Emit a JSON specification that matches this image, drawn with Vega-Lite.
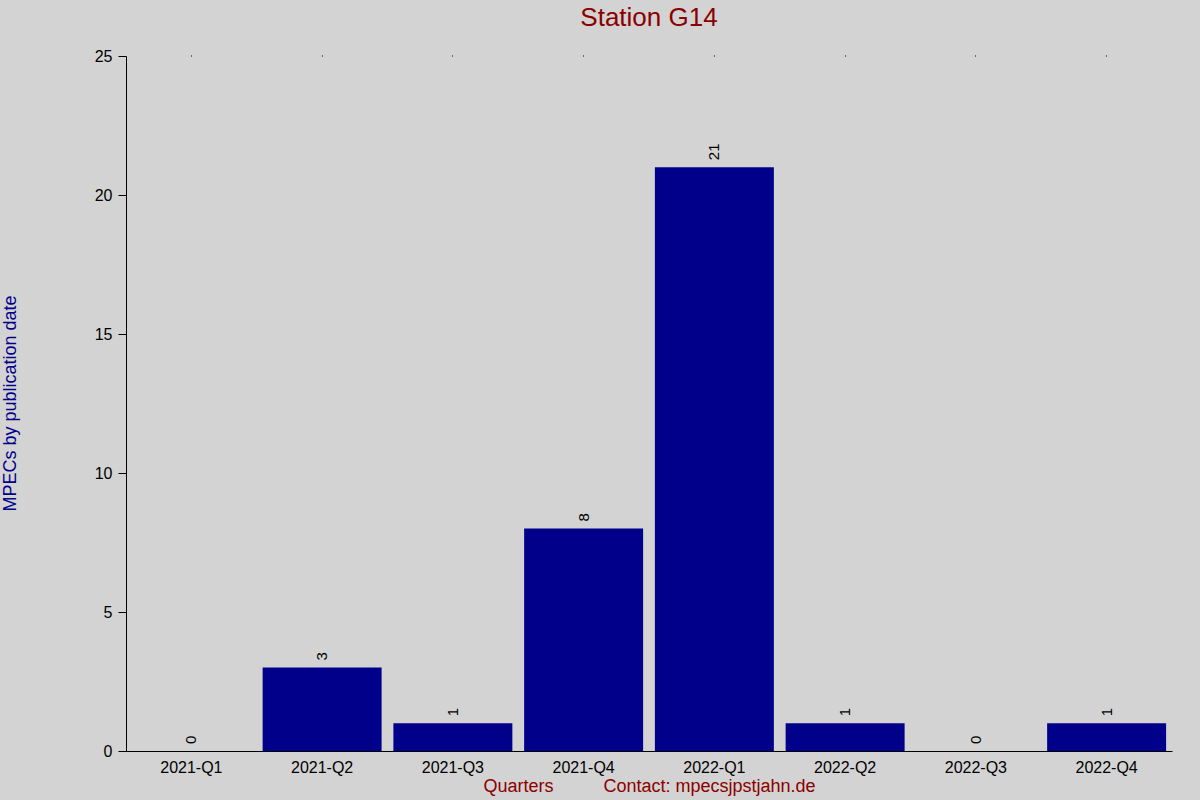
{
  "$schema": "https://vega.github.io/schema/vega-lite/v6.json",
  "autosize": "none",
  "width": 1046,
  "height": 695,
  "padding": {"left": 126, "top": 56, "right": 28, "bottom": 49},
  "background": "#d3d3d3",
  "config": {
    "font": "Liberation Sans",
    "view": {"stroke": null},
    "axis": {"grid": false, "domainColor": "black", "tickColor": "black", "labelColor": "black", "labelFont": "Liberation Sans", "titleFont": "Liberation Sans", "titleFontWeight": "normal"}
  },
  "title": {"text": "Station G14", "color": "#8b0000", "fontSize": 26, "fontWeight": "normal", "font": "Liberation Sans", "offset": 17},
  "data": {
    "values": [
      {"quarter": "2021-Q1", "mpecs": 0},
      {"quarter": "2021-Q2", "mpecs": 3},
      {"quarter": "2021-Q3", "mpecs": 1},
      {"quarter": "2021-Q4", "mpecs": 8},
      {"quarter": "2022-Q1", "mpecs": 21},
      {"quarter": "2022-Q2", "mpecs": 1},
      {"quarter": "2022-Q3", "mpecs": 0},
      {"quarter": "2022-Q4", "mpecs": 1}
    ]
  },
  "encoding": {
    "x": {"field": "quarter", "type": "nominal", "sort": null,
      "scale": {"paddingInner": 0.09, "paddingOuter": 0.045}},
    "y": {"field": "mpecs", "type": "quantitative",
      "scale": {"domain": [0, 25], "nice": false},
      "axis": {"values": [0, 5, 10, 15, 20, 25], "tickSize": 8, "labelFontSize": 16, "labelPadding": 6,
        "title": "MPECs by publication date", "titleColor": "#00008b", "titleFontSize": 18,
        "titleX": -116, "titleY": 347, "titleAngle": 270, "titleAlign": "center", "titleBaseline": "middle"}}
  },
  "layer": [
    {
      "mark": {"type": "bar", "color": "#00008b"},
      "encoding": {
        "x": {"field": "quarter", "type": "nominal", "sort": null,
          "axis": {"orient": "bottom", "ticks": false, "labelAngle": 0, "labelFontSize": 16, "labelPadding": 8,
            "title": "Quarters\u00a0\u00a0\u00a0\u00a0\u00a0\u00a0\u00a0\u00a0\u00a0\u00a0Contact: mpecsjpstjahn.de",
            "titleColor": "#8b0000", "titleFontSize": 18, "titleY": 35, "titleBaseline": "middle"}}
      }
    },
    {
      "mark": {"type": "text", "angle": 270, "align": "left", "baseline": "middle", "dx": 7, "fontSize": 15, "color": "black"},
      "encoding": {
        "x": {"field": "quarter", "type": "nominal", "sort": null,
          "axis": {"orient": "top", "tickSize": 1, "labels": false, "domain": false, "title": null}},
        "text": {"field": "mpecs", "type": "quantitative"}
      }
    }
  ],
  "resolve": {"axis": {"x": "independent"}}
}
